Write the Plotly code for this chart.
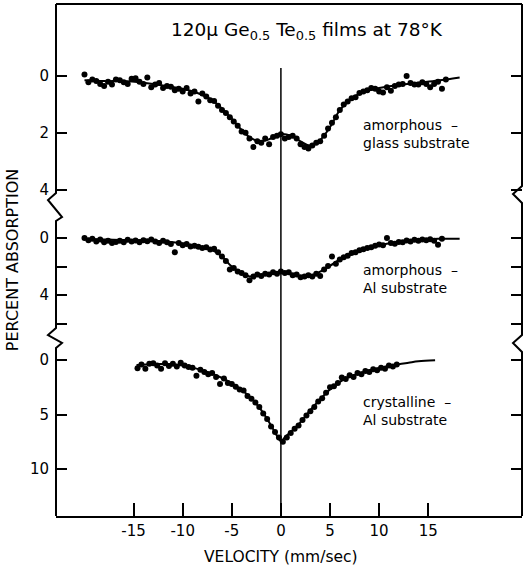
import plotly.graph_objects as go

# ---------------- data ----------------
# Top panel: amorphous - glass substrate
fit_glass_x = [-20, -18, -16, -14, -12, -10, -8.5, -7, -6, -5, -4, -3, -2, -1, 0, 1, 2, 3, 4, 5, 6, 7, 8, 9, 10, 12, 14, 16, 18.2]
fit_glass_y = [0.15, 0.18, 0.18, 0.24, 0.33, 0.45, 0.6, 0.85, 1.15, 1.5, 1.9, 2.2, 2.3, 2.2, 2.05, 2.1, 2.3, 2.45, 2.25, 1.8, 1.2, 0.85, 0.62, 0.5, 0.42, 0.32, 0.24, 0.16, 0.05]

pts_glass_x = [-20.0, -19.6, -19.2, -18.8, -18.4, -18.0, -17.6, -17.2, -16.8, -16.4, -16.0, -15.6, -15.2, -14.8, -14.4, -14.0, -13.6, -13.2, -12.8, -12.4, -12.0, -11.6, -11.2, -10.8, -10.4, -10.0, -9.6, -9.2, -8.8, -8.4, -8.0, -7.6, -7.2, -6.8, -6.4, -6.0, -5.6, -5.2, -4.8, -4.4, -4.0, -3.6, -3.2, -2.8, -2.4, -2.0, -1.6, -1.2, -0.8, -0.4, 0.0, 0.4, 0.8, 1.2, 1.6, 2.0, 2.4, 2.8, 3.2, 3.6, 4.0, 4.4, 4.8, 5.2, 5.6, 6.0, 6.4, 6.8, 7.2, 7.6, 8.0, 8.4, 8.8, 9.2, 9.6, 10.0, 10.4, 10.8, 11.2, 11.6, 12.0, 12.4, 12.8, 13.2, 13.6, 14.0, 14.4, 14.8, 15.2, 15.6, 16.0, 16.4, 16.8]
pts_glass_y = [-0.05, 0.22, 0.12, 0.18, 0.28, 0.35, 0.2, 0.3, 0.12, 0.15, 0.22, 0.28, 0.1, 0.08, 0.2, 0.28, 0.05, 0.4, 0.3, 0.25, 0.42, 0.35, 0.38, 0.5, 0.45, 0.55, 0.42, 0.62, 0.55, 0.9, 0.62, 0.72, 0.85, 0.88, 1.05, 1.2, 1.3, 1.45, 1.6, 1.75, 1.95, 2.0, 2.2, 2.5, 2.3, 2.35, 2.2, 2.4, 2.15, 2.1, 2.05, 2.2, 2.15, 2.1, 2.2, 2.4, 2.5, 2.55, 2.45, 2.35, 2.3, 2.1, 1.85, 1.65, 1.45, 1.2, 1.0, 0.9, 0.78, 0.75, 0.6, 0.55, 0.5, 0.42, 0.45, 0.55, 0.58, 0.4, 0.52, 0.35, 0.3, 0.28, 0.0, 0.25, 0.3, 0.3, 0.22, 0.28, 0.4, 0.28, 0.2, 0.45, 0.12]

# Middle panel: amorphous - Al substrate
fit_amal_x = [-20, -18, -16, -14, -12, -10, -8, -7, -6, -5, -4, -3, -2, -1, 0, 1, 2, 3, 4, 5, 6, 7, 8, 10, 12, 14, 16, 18.2]
fit_amal_y = [0.05, 0.1, 0.14, 0.15, 0.22, 0.38, 0.65, 0.85, 1.3, 2.0, 2.45, 2.7, 2.6, 2.45, 2.38, 2.5, 2.7, 2.65, 2.35, 1.95, 1.5, 1.2, 0.9, 0.5, 0.3, 0.15, 0.06, 0.05]

pts_amal_x = [-20.0, -19.6, -19.2, -18.8, -18.4, -18.0, -17.6, -17.2, -16.8, -16.4, -16.0, -15.6, -15.2, -14.8, -14.4, -14.0, -13.6, -13.2, -12.8, -12.4, -12.0, -11.6, -11.2, -10.8, -10.4, -10.0, -9.6, -9.2, -8.8, -8.4, -8.0, -7.6, -7.2, -6.8, -6.4, -6.0, -5.6, -5.2, -4.8, -4.4, -4.0, -3.6, -3.2, -2.8, -2.4, -2.0, -1.6, -1.2, -0.8, -0.4, 0.0, 0.4, 0.8, 1.2, 1.6, 2.0, 2.4, 2.8, 3.2, 3.6, 4.0, 4.4, 4.8, 5.2, 5.6, 6.0, 6.4, 6.8, 7.2, 7.6, 8.0, 8.4, 8.8, 9.2, 9.6, 10.0, 10.4, 10.8, 11.2, 11.6, 12.0, 12.4, 12.8, 13.2, 13.6, 14.0, 14.4, 14.8, 15.2, 15.6, 16.0, 16.4]
pts_amal_y = [0.0, 0.15, 0.05, 0.25, 0.1, 0.3, 0.2, 0.35, 0.28, 0.2, 0.3, 0.12, 0.25, 0.18, 0.3, 0.15, 0.22, 0.1, 0.25, 0.35, 0.2, 0.3, 0.42, 1.0, 0.35, 0.5, 0.42, 0.6, 0.55, 0.62, 0.7, 0.65, 0.8, 0.75, 1.0, 1.3, 1.6, 2.2, 2.1, 2.35, 2.45, 2.6, 2.95, 2.7, 2.55, 2.65, 2.5, 2.55, 2.4, 2.5, 2.35, 2.45, 2.4, 2.6, 2.55, 2.75, 2.7, 2.6, 2.7, 2.5, 2.65, 2.2, 1.95, 1.3, 1.8, 1.5, 1.35, 1.25, 1.05, 1.0, 0.85, 0.78, 0.7, 0.65, 0.55, 0.45, 0.5, 0.0, 0.35, 0.4, 0.28, 0.3, 0.18, 0.25, 0.12, 0.2, 0.1, 0.15, 0.08, 0.2, 0.48, 0.05]

# Bottom panel: crystalline - Al substrate
fit_cryst_x = [-14.7, -13, -11, -10, -9, -8, -7, -6, -5, -4, -3, -2, -1, -0.5, 0, 0.5, 1, 2, 3, 4, 5, 6, 7, 8, 9, 10, 11, 12, 13, 14, 15.7]
fit_cryst_y = [0.45, 0.38, 0.4, 0.5, 0.7, 0.95, 1.25, 1.65, 2.15, 2.75, 3.5, 4.6, 6.0, 6.8, 7.45, 7.0, 6.6, 5.7, 4.6, 3.6, 2.7, 2.0, 1.55, 1.2, 0.95, 0.75, 0.55, 0.38, 0.25, 0.12, 0.02]

pts_cryst_x = [-14.6, -14.2, -13.8, -13.4, -13.0, -12.6, -12.2, -11.8, -11.4, -11.0, -10.6, -10.2, -9.8, -9.4, -9.0, -8.6, -8.2, -7.8, -7.4, -7.0, -6.6, -6.2, -5.8, -5.4, -5.0, -4.6, -4.2, -3.8, -3.4, -3.0, -2.6, -2.2, -1.8, -1.4, -1.0, -0.6, -0.2, 0.2, 0.6, 1.0, 1.4, 1.8, 2.2, 2.6, 3.0, 3.4, 3.8, 4.2, 4.6, 5.0, 5.4, 5.8, 6.2, 6.6, 7.0, 7.4, 7.8, 8.2, 8.6, 9.0, 9.4, 9.8, 10.2, 10.6, 11.0, 11.4, 11.8]
pts_cryst_y = [0.75, 0.4, 0.8, 0.35, 0.3, 0.5, 0.8, 0.3, 0.55, 0.35, 0.6, 0.25, 0.5, 0.65, 0.7, 1.45, 0.9, 1.1, 1.3, 1.2, 1.55, 2.2, 1.7, 2.1, 2.2, 2.45, 2.7, 2.8, 3.3, 3.55, 3.9, 4.3, 4.9, 5.4, 6.1, 6.6, 7.1, 7.5, 7.1, 6.7, 6.3, 6.0, 5.5, 5.1, 4.7, 4.3, 3.8, 3.5, 3.0, 2.5, 2.4, 2.1, 1.6, 1.75, 1.4, 1.55, 1.2, 1.3, 1.0, 1.1, 0.85, 0.95, 0.7, 0.8, 0.5, 0.6, 0.4]

x_tick_vals = [-15, -10, -5, 0, 5, 10, 15]
x_tick_text = ["-15", "-10", "-5", "0", "5", "10", "15"]
top_tick_vals = [0, 2, 4]
top_tick_text = ["0", "2", "4"]
mid_tick_vals = [0, 2, 4, 6]
mid_tick_text = ["0", "", "4", ""]
bot_tick_vals = [0, 5, 10]
bot_tick_text = ["0", "5", "10"]

# ---------------- figure ----------------
FONT = "DejaVu Sans"
fig = go.Figure()

panels = [
    (fit_glass_x, fit_glass_y, pts_glass_x, pts_glass_y, "y"),
    (fit_amal_x, fit_amal_y, pts_amal_x, pts_amal_y, "y2"),
    (fit_cryst_x, fit_cryst_y, pts_cryst_x, pts_cryst_y, "y3"),
]
for fx, fy, px, py, ya in panels:
    fig.add_trace(go.Scatter(x=px, y=py, mode="markers", yaxis=ya, xaxis="x",
                             marker=dict(color="black", size=6), showlegend=False,
                             cliponaxis=False))
    fig.add_trace(go.Scatter(x=fx, y=fy, mode="lines", yaxis=ya, xaxis="x",
                             line=dict(color="black", width=2, shape="spline"),
                             showlegend=False))

yax_common = dict(showgrid=False, zeroline=False, showline=False, ticks="inside",
                  ticklen=11, tickwidth=2, tickcolor="black", mirror="ticks",
                  anchor="x", tickfont=dict(family=FONT, size=15, color="black"),
                  ticklabelstandoff=6)

fig.update_layout(
    width=527, height=566,
    margin=dict(l=56, r=5, t=4, b=50),
    paper_bgcolor="white", plot_bgcolor="white",
    xaxis=dict(range=[-22.9, 24.55], showgrid=False, zeroline=False, showline=True,
               linewidth=2, linecolor="black", ticks="inside", ticklen=13, tickwidth=2,
               tickcolor="black", tickvals=x_tick_vals, ticktext=x_tick_text,
               anchor="y3", tickfont=dict(family=FONT, size=15, color="black")),
    yaxis=dict(domain=[0.6172, 1.0], range=[4.366, -2.535], tickvals=top_tick_vals,
               ticktext=top_tick_text, **yax_common),
    yaxis2=dict(domain=[0.3535, 0.6172], range=[6.783, -2.657], tickvals=mid_tick_vals,
                ticktext=mid_tick_text, **yax_common),
    yaxis3=dict(domain=[0.0, 0.3535], range=[14.31, -2.294], tickvals=bot_tick_vals,
                ticktext=bot_tick_text, **yax_common),
)

# frame: top line, broken left and right axes, zero-velocity line
fig.add_shape(type="line", xref="paper", yref="paper", x0=0, x1=1, y0=1, y1=1,
              line=dict(color="black", width=2))
fig.add_shape(type="path", xref="paper", yref="paper",
              path="M 0 1 L 0 0.6309 L -0.0172 0.6172 L 0.0129 0.584 L 0 0.5762 "
                   "L 0 0.3672 L -0.0172 0.3535 L 0.0129 0.3379 L 0 0.3281 L 0 0",
              line=dict(color="black", width=2))
fig.add_shape(type="path", xref="paper", yref="paper",
              path="M 1 1 L 1 0.6445 L 0.9807 0.6289 L 1 0.6113 "
                   "L 1 0.3535 L 0.9807 0.3379 L 1 0.3203 L 1 0",
              line=dict(color="black", width=2))
fig.add_shape(type="line", xref="x", yref="paper", x0=0, x1=0, y0=0, y1=0.875,
              line=dict(color="black", width=1.5))

ann_font = dict(family=FONT, size=14, color="black")
fig.add_annotation(xref="paper", yref="paper", x=0.5386, y=0.947, showarrow=False,
                   xanchor="center", yanchor="middle",
                   text="120\u03bc Ge<sub>0.5</sub> Te<sub>0.5</sub> films at 78\u00b0K",
                   font=dict(family=FONT, size=18.5, color="black"))
fig.add_annotation(xref="paper", yref="paper", x=0.6545, y=0.747, xanchor="left",
                   yanchor="middle", align="left", showarrow=False,
                   text="amorphous  \u2013<br>glass substrate", font=ann_font)
fig.add_annotation(xref="paper", yref="paper", x=0.6545, y=0.4629, xanchor="left",
                   yanchor="middle", align="left", showarrow=False,
                   text="amorphous  \u2013<br>Al substrate", font=ann_font)
fig.add_annotation(xref="paper", yref="paper", x=0.6545, y=0.205, xanchor="left",
                   yanchor="middle", align="left", showarrow=False,
                   text="crystalline  \u2013<br>Al substrate", font=ann_font)
fig.add_annotation(xref="paper", yref="paper", x=-0.094, y=0.5, textangle=-90,
                   xanchor="center", yanchor="middle",
                   showarrow=False, text="PERCENT ABSORPTION",
                   font=dict(family=FONT, size=16, color="black"))
fig.add_annotation(xref="paper", yref="paper", x=0.4828, y=-0.08, showarrow=False,
                   xanchor="center", yanchor="middle",
                   text="VELOCITY (mm/sec)",
                   font=dict(family=FONT, size=15.5, color="black"))

fig.write_html("out.html", config={"displayModeBar": False},
               post_script="document.body.style.margin='0';document.body.style.padding='0';")
